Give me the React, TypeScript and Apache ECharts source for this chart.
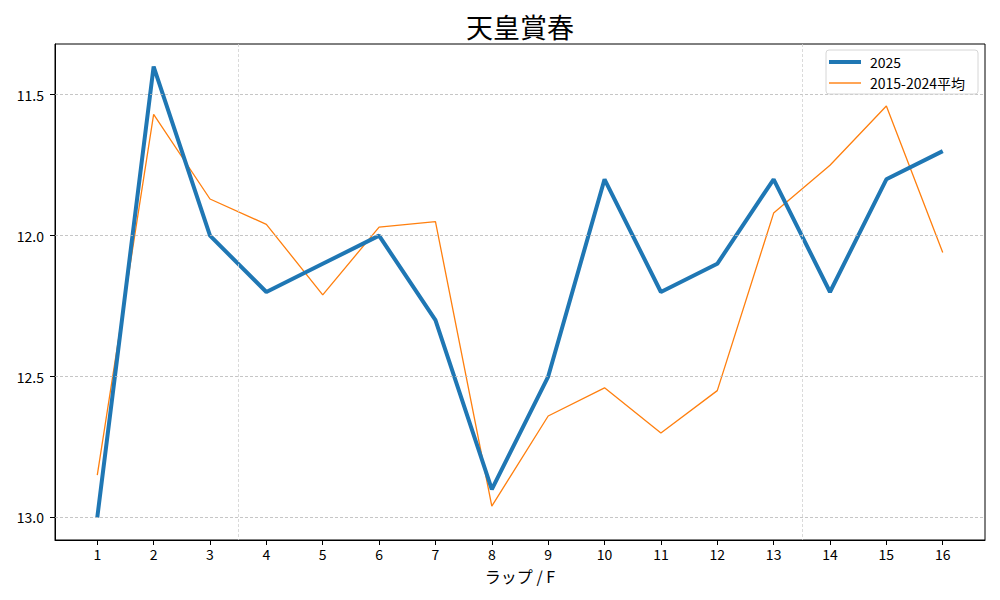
import * as echarts from 'echarts';
import { useEffect, useRef } from 'react';

const laps = [1, 2, 3, 4, 5, 6, 7, 8, 9, 10, 11, 12, 13, 14, 15, 16];
const lap2025 = [13.0, 11.4, 12.0, 12.2, 12.1, 12.0, 12.3, 12.9, 12.5, 11.8, 12.2, 12.1, 11.8, 12.2, 11.8, 11.7];
const lapAvg = [12.85, 11.57, 11.87, 11.96, 12.21, 11.97, 11.95, 12.96, 12.64, 12.54, 12.7, 12.55, 11.92, 11.75, 11.54, 12.06];
const yTicks = [11.5, 12.0, 12.5, 13.0];
const xGuides = [3.5, 13.5];

const FONT = '"Noto Sans CJK JP", "Noto Sans", sans-serif';
const BLUE = '#1f77b4';
const ORANGE = '#ff7f0e';

export default function App() {
  const elRef = useRef<HTMLDivElement | null>(null);

  useEffect(() => {
    if (!elRef.current) return;
    const chart = echarts.init(elRef.current, undefined, { renderer: 'svg' });

    const gridLines = [
      ...yTicks.map((v) => ({ yAxis: v, lineStyle: { color: '#b8b8b8' } })),
      ...xGuides.map((v) => ({ xAxis: v, lineStyle: { color: '#d0d0d0' } }))
    ];

    // legend drawn by hand: matplotlib-style box, plain line swatches
    const legendBox = [
      {
        type: 'rect',
        shape: { x: 826, y: 50, width: 152, height: 44, r: 3 },
        style: { fill: 'rgba(255,255,255,0.8)', stroke: '#d6d6d6', lineWidth: 1 },
        z: 10
      },
      {
        type: 'line',
        shape: { x1: 829, y1: 62, x2: 861, y2: 62 },
        style: { stroke: BLUE, lineWidth: 4 },
        z: 11
      },
      {
        type: 'text',
        x: 870,
        y: 62,
        style: { text: '2025', font: `14px ${FONT}`, fill: '#000', textVerticalAlign: 'middle' },
        z: 11
      },
      {
        type: 'line',
        shape: { x1: 829, y1: 83, x2: 861, y2: 83 },
        style: { stroke: ORANGE, lineWidth: 1.4 },
        z: 11
      },
      {
        type: 'text',
        x: 870,
        y: 83,
        style: { text: '2015-2024平均', font: `14px ${FONT}`, fill: '#000', textVerticalAlign: 'middle' },
        z: 11
      }
    ];

    chart.setOption({
      animation: false,
      textStyle: { fontFamily: FONT },
      grid: {
        left: 55,
        right: 15,
        top: 44,
        bottom: 60,
        show: true,
        borderColor: '#000',
        borderWidth: 1,
        backgroundColor: 'transparent'
      },
      graphic: [
        {
          type: 'text',
          x: 520,
          y: 26,
          style: {
            text: '天皇賞春',
            font: `27px ${FONT}`,
            fill: '#000',
            textAlign: 'center',
            textVerticalAlign: 'middle'
          }
        },
        ...legendBox
      ],
      xAxis: {
        type: 'value',
        min: 0.25,
        max: 16.75,
        name: 'ラップ / F',
        nameLocation: 'middle',
        nameGap: 28,
        nameTextStyle: { fontSize: 16, color: '#000', fontFamily: FONT },
        axisLine: { show: true, lineStyle: { color: '#000', width: 1 } },
        axisTick: { show: true, length: 5, lineStyle: { color: '#000' }, customValues: laps },
        axisLabel: { color: '#000', fontSize: 14, margin: 7, customValues: laps },
        splitLine: { show: false }
      },
      yAxis: {
        type: 'value',
        inverse: true,
        min: 11.32,
        max: 13.08,
        axisLine: { show: true, lineStyle: { color: '#000', width: 1 } },
        axisTick: { show: true, length: 5, lineStyle: { color: '#000' }, customValues: yTicks },
        axisLabel: {
          color: '#000',
          fontSize: 14,
          margin: 11,
          customValues: yTicks,
          formatter: (v: number) => v.toFixed(1)
        },
        splitLine: { show: false }
      },
      series: [
        {
          name: '_grid',
          type: 'line',
          data: [],
          silent: true,
          z: 1,
          markLine: {
            silent: true,
            symbol: 'none',
            label: { show: false },
            lineStyle: { type: [3, 2], width: 0.8 },
            data: gridLines
          }
        },
        {
          name: '2025',
          type: 'line',
          data: laps.map((x, i) => [x, lap2025[i]]),
          symbol: 'none',
          z: 4,
          lineStyle: { color: BLUE, width: 4 },
          itemStyle: { color: BLUE }
        },
        {
          name: '2015-2024平均',
          type: 'line',
          data: laps.map((x, i) => [x, lapAvg[i]]),
          symbol: 'none',
          z: 3,
          lineStyle: { color: ORANGE, width: 1.3 },
          itemStyle: { color: ORANGE }
        }
      ]
    });

    return () => {
      chart.dispose();
    };
  }, []);

  return <div ref={elRef} style={{ position: 'fixed', left: 0, top: 0, width: 1000, height: 600, background: '#fff' }} />;
}
